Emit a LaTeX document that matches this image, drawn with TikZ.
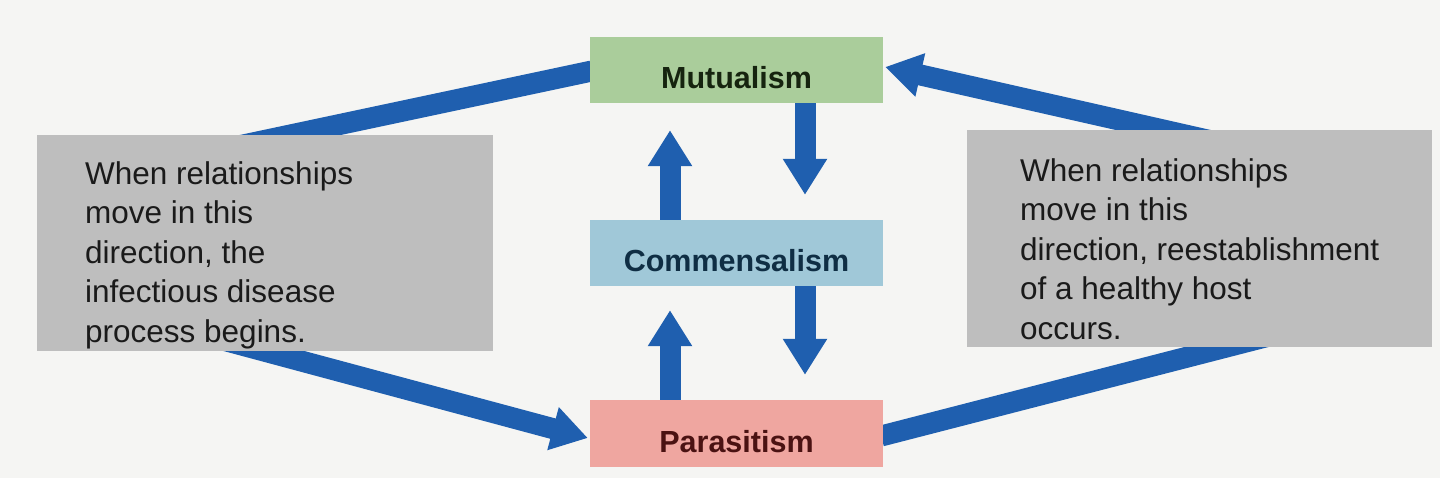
\documentclass[tikz,border=0pt]{standalone}
\usepackage{fontspec}
\setmainfont{Liberation Sans}
\usetikzlibrary{arrows.meta,calc}
\pgfdeclarelayer{bg}
\pgfsetlayers{bg,main}
\definecolor{bgc}{HTML}{F5F5F3}
\definecolor{mutc}{HTML}{AACD9B}
\definecolor{comc}{HTML}{A0C8D8}
\definecolor{parc}{HTML}{EFA6A0}
\definecolor{grayc}{HTML}{BEBEBE}
\definecolor{bluec}{HTML}{1F5FAF}
\definecolor{textc}{HTML}{1A1A1A}
\definecolor{mutt}{HTML}{16240F}
\definecolor{comt}{HTML}{0F2E44}
\definecolor{part}{HTML}{4A1212}
\begin{document}
\begin{tikzpicture}[x=1pt,y=-1pt,
  relbox/.style={draw=none, minimum width=293pt, minimum height=66pt, inner sep=0pt,
    text height=37pt, text depth=0pt, font=\fontsize{30.5}{35}\selectfont\bfseries},
  notebox/.style={fill=grayc, inner sep=0pt},
  notetext/.style={anchor=north west, align=left, inner sep=0pt,
    font=\fontsize{31.5}{39.5}\selectfont, text=textc},
  band/.style={line width=21pt, draw=bluec},
  bandtip/.style={band, -{Triangle[width=42pt,length=36pt]}}]
\useasboundingbox (0,0) rectangle (1440,478);
\begin{pgfonlayer}{bg}
\fill[bgc] (0,0) rectangle (1440,478);
\end{pgfonlayer}

\node[relbox, fill=mutc, text=mutt] (mut) at (736.5,70) {Mutualism};
\node[relbox, fill=comc, text=comt] (com) at (736.5,253) {Commensalism};
\node[relbox, fill=parc, text=part, minimum height=67pt] (par) at (736.5,433.5) {Parasitism};

\node[notebox, minimum width=456pt, minimum height=216pt] (left) at (265,243) {};
\node[notebox, minimum width=465pt, minimum height=217pt] (right) at (1199.5,238.5) {};

\node[notetext] (lefttext) at (85,161) {When relationships\\move in this\\direction, the\\infectious disease\\process begins.};
\node[notetext] (righttext) at (1020,158) {When relationships\\move in this\\direction, reestablishment\\of a healthy host\\occurs.};

\begin{pgfonlayer}{bg}
% diagonal bands
\draw[band] ($(left.north)+(-35,13)$) -- ($(mut.west)+(2,1)$);
\draw[bandtip] ($(left.south)+(-45,-12)$) -- ($(par.west)+(-2,4.5)$);
\draw[bandtip] ($(right.north)+(40.5,17.6)$) -- ($(mut.east)+(2,-3)$);
\draw[band] ($(par.east)+(-2,2.5)$) -- ($(right.south)+(80.5,-14)$);
% vertical arrows
\draw[bandtip, shorten >=27pt] ($(com.north)+(-66.5,0)$) -- ($(mut.south)+(-66.5,0)$);
\draw[bandtip, shorten >=25pt] ($(mut.south)+(68.5,0)$) -- ($(com.north)+(68.5,0)$);
\draw[bandtip, shorten >=24pt] ($(par.north)+(-66.5,0)$) -- ($(com.south)+(-66.5,0)$);
\draw[bandtip, shorten >=25pt] ($(com.south)+(68.5,0)$) -- ($(par.north)+(68.5,0)$);
\end{pgfonlayer}
\end{tikzpicture}
\end{document}
